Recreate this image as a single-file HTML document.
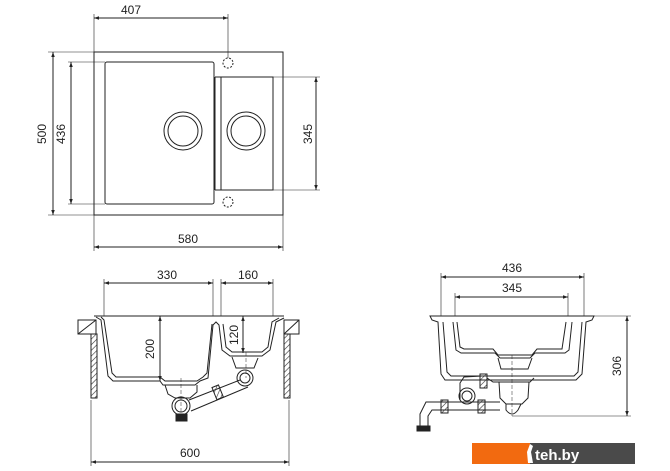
<!DOCTYPE html>
<html><head><meta charset="utf-8"><style>
html,body{margin:0;padding:0;background:#fff;}
svg{display:block;}
text{font-family:"Liberation Sans",sans-serif;font-size:12px;fill:#222;}
</style></head><body>
<svg width="670" height="471" viewBox="0 0 670 471" xmlns="http://www.w3.org/2000/svg">
<defs>
<marker id="a" viewBox="0 0 10 10" refX="10" refY="5" markerWidth="7" markerHeight="5" orient="auto-start-reverse"><path d="M0,1.5 L10,5 L0,8.5z" fill="#222"/></marker>
<pattern id="h" width="4" height="4" patternUnits="userSpaceOnUse" patternTransform="rotate(45)"><line x1="0" y1="0" x2="0" y2="4" stroke="#333" stroke-width="1.2"/></pattern>
</defs>
<g stroke="#222" fill="none" stroke-width="1">
<!-- TOP VIEW -->
<rect x="94" y="52" width="189" height="163"/>
<rect x="105" y="62" width="109" height="142" rx="2"/>
<line x1="215" y1="77" x2="215" y2="190"/>
<rect x="221" y="77" width="52" height="113"/>
<line x1="215" y1="77" x2="221" y2="77"/><line x1="215" y1="190" x2="221" y2="190"/>
<circle cx="183" cy="131" r="19"/><circle cx="183" cy="131" r="15"/>
<circle cx="246" cy="131" r="19"/><circle cx="246" cy="131" r="15"/>
<circle cx="228" cy="63" r="5" stroke-dasharray="2,1.5"/>
<circle cx="228" cy="202" r="5" stroke-dasharray="2,1.5"/>
<line x1="94" y1="14" x2="94" y2="52" stroke-width="0.6"/>
<line x1="228" y1="14" x2="228" y2="58" stroke-width="0.6"/>
<line x1="94" y1="18" x2="228" y2="18" marker-start="url(#a)" marker-end="url(#a)"/>
<line x1="48" y1="52" x2="94" y2="52" stroke-width="0.6"/>
<line x1="48" y1="215" x2="94" y2="215" stroke-width="0.6"/>
<line x1="53" y1="52" x2="53" y2="215" marker-start="url(#a)" marker-end="url(#a)"/>
<line x1="68" y1="62" x2="105" y2="62" stroke-width="0.6"/>
<line x1="68" y1="204" x2="105" y2="204" stroke-width="0.6"/>
<line x1="71" y1="62" x2="71" y2="204" marker-start="url(#a)" marker-end="url(#a)"/>
<line x1="273" y1="77" x2="320" y2="77" stroke-width="0.6"/>
<line x1="273" y1="190" x2="320" y2="190" stroke-width="0.6"/>
<line x1="316" y1="77" x2="316" y2="190" marker-start="url(#a)" marker-end="url(#a)"/>
<line x1="94" y1="215" x2="94" y2="251" stroke-width="0.6"/>
<line x1="283" y1="215" x2="283" y2="251" stroke-width="0.6"/>
<line x1="94" y1="247" x2="283" y2="247" marker-start="url(#a)" marker-end="url(#a)"/>

<!-- FRONT VIEW -->
<line x1="104" y1="279" x2="104" y2="316" stroke-width="0.6"/>
<line x1="213" y1="279" x2="213" y2="316" stroke-width="0.6"/>
<line x1="221" y1="279" x2="221" y2="316" stroke-width="0.6"/>
<line x1="273" y1="279" x2="273" y2="316" stroke-width="0.6"/>
<line x1="104" y1="283" x2="213" y2="283" marker-start="url(#a)" marker-end="url(#a)"/>
<line x1="221" y1="283" x2="273" y2="283" marker-start="url(#a)" marker-end="url(#a)"/>
<line x1="94" y1="316" x2="284" y2="316"/>
<rect x="78" y="320" width="18" height="14"/><line x1="78" y1="334" x2="96" y2="320"/>
<rect x="284" y="320" width="15" height="14"/><line x1="284" y1="334" x2="299" y2="320"/>
<rect x="91" y="334" width="6" height="64" fill="url(#h)"/>
<rect x="284" y="334" width="6" height="64" fill="url(#h)"/>
<path d="M96,317 L101,320 L108,376 L113,381 L160,381 L163,385 L195,385 L200,381 L208,378 L213,325 L216,322 L219,325 L222,350 L230,356 L262,356 L270,350 L276,322 L284,318"/>
<path d="M101,317 L104,320 L112,373 L116,377 L160,377 L165,381 L197,381 L203,377 L207,373 L212,324"/>
<path d="M223,324 L226,347 L232,352 L262,352 L268,347 L272,322 L279,318"/>
<path d="M165,385 L168,394 L175,398 L190,398 L197,392 L197,385"/>
<circle cx="181" cy="406" r="9"/><circle cx="181" cy="406" r="6"/>
<rect x="176" y="414" width="11" height="7" fill="#222"/>
<path d="M232,357 L236,368 L254,368 L258,358"/>
<circle cx="245" cy="378" r="8"/><circle cx="245" cy="378" r="5"/>
<line x1="189" y1="400" x2="240" y2="380"/><line x1="191" y1="411" x2="248" y2="387"/>
<rect x="214" y="386" width="7" height="13" fill="url(#h)" transform="rotate(-22 217 392)"/>
<line x1="181" y1="378" x2="181" y2="414" stroke-dasharray="4,2" stroke-width="0.5"/>
<line x1="246" y1="352" x2="246" y2="378" stroke-dasharray="4,2" stroke-width="0.5"/>
<line x1="160" y1="316" x2="160" y2="381" marker-start="url(#a)" marker-end="url(#a)"/>
<line x1="243" y1="316" x2="243" y2="353" marker-start="url(#a)" marker-end="url(#a)"/>
<line x1="91" y1="400" x2="91" y2="466" stroke-width="0.6"/>
<line x1="289" y1="400" x2="289" y2="466" stroke-width="0.6"/>
<line x1="91" y1="462" x2="289" y2="462" marker-start="url(#a)" marker-end="url(#a)"/>

<!-- SIDE VIEW -->
<line x1="441" y1="273" x2="441" y2="316" stroke-width="0.6"/>
<line x1="584" y1="273" x2="584" y2="316" stroke-width="0.6"/>
<line x1="455" y1="293" x2="455" y2="316" stroke-width="0.6"/>
<line x1="568" y1="293" x2="568" y2="316" stroke-width="0.6"/>
<line x1="441" y1="277" x2="584" y2="277" marker-start="url(#a)" marker-end="url(#a)"/>
<line x1="455" y1="297" x2="568" y2="297" marker-start="url(#a)" marker-end="url(#a)"/>
<path d="M430,316 L594,316 L592,320 L586,322 L582,374 L576,380 L445,380 L441,374 L438,322 L432,320 Z"/>
<path d="M443,322 L447,372 L451,376 L574,376 L578,372 L582,322"/>
<path d="M453,322 L456,350 L461,353 L495,353 L500,358 L530,358 L535,353 L565,353 L569,350 L572,322"/>
<path d="M457,322 L460,347 L464,349 L493,349 L498,355 L532,355 L537,349 L562,349 L566,322"/>
<path d="M498,358 L501,369 L528,369 L532,358"/>
<path d="M487,378 L493,382 L530,382 L534,378"/>
<path d="M499,382 L500,398 L506,404 L522,404 L528,398 L529,382"/>
<path d="M506,404 L506,410 Q512,418 518,410 L521,404"/>
<line x1="512" y1="355" x2="512" y2="416" stroke-dasharray="4,2" stroke-width="0.5"/>
<path d="M482,376 L464,377 L460,383 L460,400"/>
<rect x="480" y="374" width="7" height="14" fill="url(#h)"/>
<circle cx="467" cy="396" r="8"/><circle cx="467" cy="396" r="5"/>
<path d="M420,428 L420,414 L426,402 L500,402 M428,428 L428,416 L432,410 L500,410"/>
<rect x="441" y="400" width="7" height="13" fill="url(#h)"/>
<rect x="478" y="400" width="7" height="13" fill="url(#h)"/>
<rect x="417" y="426" width="13" height="5" fill="#222"/>
<line x1="584" y1="316" x2="631" y2="316" stroke-width="0.6"/>
<line x1="512" y1="416" x2="631" y2="416" stroke-width="0.6"/>
<line x1="627" y1="316" x2="627" y2="416" marker-start="url(#a)" marker-end="url(#a)"/>
</g>
<text x="131" y="14" text-anchor="middle">407</text>
<text x="188" y="243" text-anchor="middle">580</text>
<text transform="translate(46,134) rotate(-90)" text-anchor="middle">500</text>
<text transform="translate(65,134) rotate(-90)" text-anchor="middle">436</text>
<text transform="translate(312,134) rotate(-90)" text-anchor="middle">345</text>
<text x="167" y="279" text-anchor="middle">330</text>
<text x="248" y="279" text-anchor="middle">160</text>
<text transform="translate(154,349) rotate(-90)" text-anchor="middle">200</text>
<text transform="translate(238,335) rotate(-90)" text-anchor="middle">120</text>
<text x="190" y="457" text-anchor="middle">600</text>
<text x="512" y="272" text-anchor="middle">436</text>
<text x="512" y="292" text-anchor="middle">345</text>
<text transform="translate(621,366) rotate(-90)" text-anchor="middle">306</text>
<rect x="472" y="443" width="58" height="21" fill="#f26a10"/>
<rect x="530" y="443" width="105" height="21" fill="#4a4a4a"/>
<path d="M530,444 L533,446 L531,452 L533,463 L528,463 L527,452 Z" fill="#fff"/>
<text x="535" y="460" style="font-size:15px;fill:#fff;font-weight:bold">teh.by</text>
</svg>
</body></html>
